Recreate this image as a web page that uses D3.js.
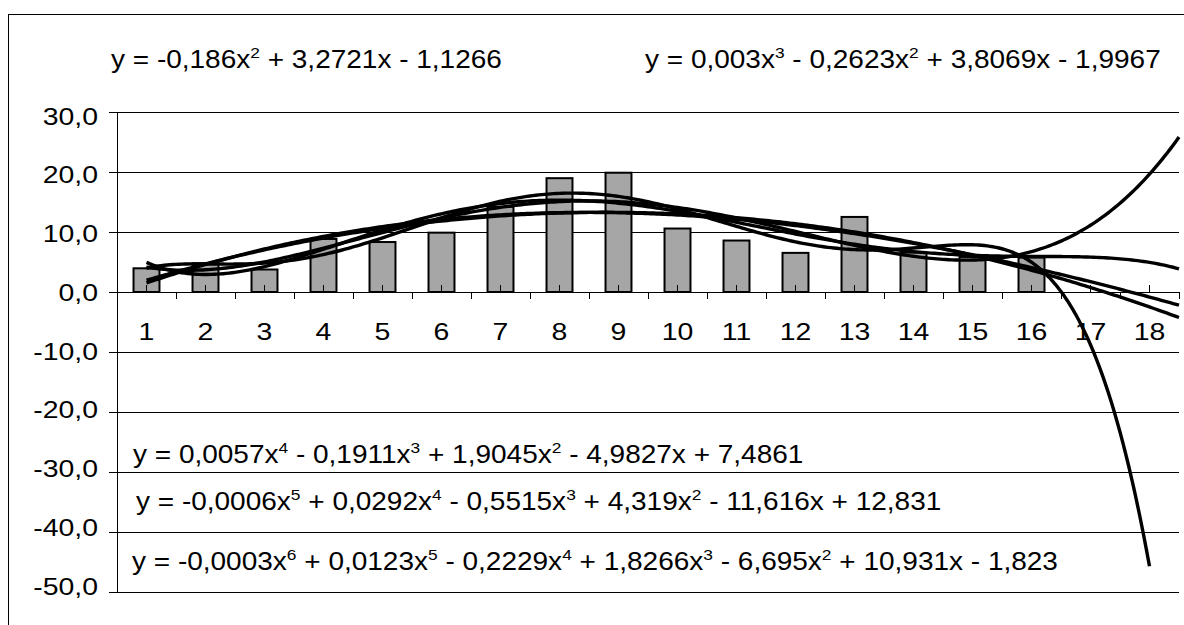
<!DOCTYPE html>
<html>
<head>
<meta charset="utf-8">
<script src="https://cdn.jsdelivr.net/npm/d3@7"></script>
<style>
body { margin: 0; background: #fff; }
text { font-family: Arial, "Liberation Sans", sans-serif; fill: #000; white-space: pre; }
</style>
</head>
<body>
<script>
// data
let categories = d3.range(1, 19);
let barValues = [3.95, 4.79, 3.75, 8.84, 8.33, 9.89, 14.2, 18.97, 19.88, 10.58, 8.58, 6.52, 12.51, 6.57, 5.84, 5.73];
let yTicks = [-50, -40, -30, -20, -10, 0, 10, 20, 30];
let trendDegrees = [2, 3, 4, 5, 6];
let forecastEnd = 18.5;
let equationLabels = [
    "y = -0,186x^2 + 3,2721x - 1,1266",
    "y = 0,003x^3 - 0,2623x^2 + 3,8069x - 1,9967",
    "y = 0,0057x^4 - 0,1911x^3 + 1,9045x^2 - 4,9827x + 7,4861",
    "y = -0,0006x^5 + 0,0292x^4 - 0,5515x^3 + 4,319x^2 - 11,616x + 12,831",
    "y = -0,0003x^6 + 0,0123x^5 - 0,2229x^4 + 1,8266x^3 - 6,695x^2 + 10,931x - 1,823"
];

// layout
let svgWidth = 1184;
let svgHeight = 625;
let plot = { left: 117, right: 1179, top: 112, bottom: 592 };
let equationPos = [[111, 68], [645, 68], [133, 463], [136, 510], [132, 570]];
let labelStretch = 1.21;
let eqStretch = 1.12;

let svg = d3.select("body")
    .append("svg")
    .attr("width", svgWidth)
    .attr("height", svgHeight)

svg.append("rect")
    .attr("x", 8.5).attr("y", 14.5)
    .attr("width", 1300).attr("height", 800)
    .attr("fill", "none").attr("stroke", "#000")

let x = d3.scaleBand()
    .domain(categories)
    .range([plot.left, plot.right])
    .paddingInner(0.56)
    .paddingOuter(0.28);

let xLin = d3.scaleLinear()
    .domain([0.5, 18.5])
    .range([plot.left, plot.right]);

let y = d3.scaleLinear()
    .domain([-50, 30])
    .range([plot.bottom, plot.top]);

// labels in the picture sit slightly off the gridlines
let yLabel = d3.scaleLinear()
    .domain([30, -50])
    .range([115.7, 585.8]);

// gridlines
svg.append("g")
    .attr("transform", `translate(${plot.left},0)`)
    .call(d3.axisLeft(y).tickValues(yTicks).tickSize(-(plot.right - plot.left)).tickFormat(""))
    .call(g => g.select(".domain").remove())
    .selectAll("line").attr("stroke", "#000");

// bars
svg.append("g")
    .selectAll("rect")
    .data(barValues)
    .enter()
    .append("rect")
    .attr("x", (d, i) => x(categories[i]))
    .attr("y", d => y(Math.max(d, 0)))
    .attr("width", x.bandwidth())
    .attr("height", d => Math.abs(y(d) - y(0)))
    .attr("fill", "#a6a6a6")
    .attr("stroke", "#000")
    .attr("stroke-width", 2);

// y axis
let fmt = d => d3.format(".1f")(d).replace("−", "-").replace(".", ",");
svg.append("g")
    .attr("transform", `translate(${plot.left},0)`)
    .call(d3.axisLeft(y).tickValues(yTicks).tickSize(8).tickSizeOuter(0).tickFormat(fmt))
    .call(g => g.selectAll("line,path").attr("stroke", "#000"))
    .selectAll("text")
    .attr("x", 0)
    .attr("dy", "0.358em")
    .attr("transform", d => `translate(-19,${yLabel(d) - y(d)}) scale(${labelStretch},1)`)
    .style("font-size", "23.5px")
    .attr("font-family", null);

// category axis on zero line: ticks at centres point up, labels below
svg.append("g")
    .attr("transform", `translate(0,${y(0)})`)
    .call(d3.axisBottom(x).tickSize(-7).tickSizeOuter(0))
    .call(g => g.selectAll("line,path").attr("stroke", "#000"))
    .selectAll("text")
    .attr("y", 0)
    .attr("dy", 0)
    .attr("transform", `translate(0,48) scale(${labelStretch},1)`)
    .style("font-size", "23.5px")
    .attr("font-family", null);

// boundary ticks point down
svg.append("g")
    .attr("transform", `translate(0,${y(0)})`)
    .call(d3.axisBottom(xLin).tickValues(d3.range(1.5, 19, 1)).tickSize(7).tickSizeOuter(0).tickFormat(""))
    .call(g => g.select(".domain").remove())
    .selectAll("line").attr("stroke", "#000");

// polynomial trendlines, least squares on the bar values
function polyFit(xs, ys, deg) {
    let m = d3.mean(xs), s = (d3.max(xs) - d3.min(xs)) / 2;
    let n = deg + 1;
    let A = d3.range(n).map(() => new Array(n).fill(0));
    let b = new Array(n).fill(0);
    xs.forEach((xv, k) => {
        let t = (xv - m) / s;
        for (let i = 0; i < n; i++) {
            b[i] += ys[k] * Math.pow(t, i);
            for (let j = 0; j < n; j++) A[i][j] += Math.pow(t, i + j);
        }
    });
    for (let c = 0; c < n; c++) {
        let p = c;
        for (let r = c + 1; r < n; r++) if (Math.abs(A[r][c]) > Math.abs(A[p][c])) p = r;
        [A[c], A[p]] = [A[p], A[c]];
        [b[c], b[p]] = [b[p], b[c]];
        for (let r = c + 1; r < n; r++) {
            let f = A[r][c] / A[c][c];
            for (let j = c; j < n; j++) A[r][j] -= f * A[c][j];
            b[r] -= f * b[c];
        }
    }
    let coef = new Array(n).fill(0);
    for (let i = n - 1; i >= 0; i--) {
        let sum = b[i];
        for (let j = i + 1; j < n; j++) sum -= A[i][j] * coef[j];
        coef[i] = sum / A[i][i];
    }
    return xv => {
        let t = (xv - m) / s;
        return coef.reduce((acc, c, i) => acc + c * Math.pow(t, i), 0);
    };
}

svg.append("clipPath").attr("id", "plotClip")
    .append("rect")
    .attr("x", plot.left).attr("y", plot.top - 2)
    .attr("width", plot.right - plot.left + 2).attr("height", plot.bottom - plot.top + 2);

let xs = barValues.map((d, i) => categories[i]);
let line = d3.line()
    .x(d => xLin(d[0]))
    .y(d => y(d[1]));

let fits = trendDegrees.map(deg => polyFit(xs, barValues, deg));

fits.forEach(f => {
    // like Excel: the line stops at the last half step that stays inside the axis
    let end = 1;
    for (let s of d3.range(1, forecastEnd + 0.001, 0.5)) {
        if (f(s) < y.domain()[0] || f(s) > y.domain()[1]) break;
        end = s;
    }
    let pts = d3.range(1, end + 0.001, 0.05).map(s => [s, f(s)]);
    svg.append("path")
        .attr("d", line(pts))
        .attr("clip-path", "url(#plotClip)")
        .attr("fill", "none")
        .attr("stroke", "#000")
        .attr("stroke-width", 3.4)
        .attr("stroke-linejoin", "round");
});

// equation labels
function drawEquation(label, px, py) {
    let size = 25;
    let t = svg.append("text")
        .attr("transform", `translate(${px},${py}) scale(${eqStretch},1)`)
        .style("font-size", size + "px");
    let pending = 0;
    label.split(/(\^\d)/).forEach(part => {
        if (part === "") return;
        if (part.startsWith("^")) {
            t.append("tspan").attr("dy", -0.42 * size).style("font-size", (size * 0.62) + "px").text(part.slice(1));
            pending = 0.42 * size;
        } else {
            t.append("tspan").attr("dy", pending).text(part);
            pending = 0;
        }
    });
}
equationLabels.forEach((l, i) => drawEquation(l, equationPos[i][0], equationPos[i][1]));
</script>
</body>
</html>
